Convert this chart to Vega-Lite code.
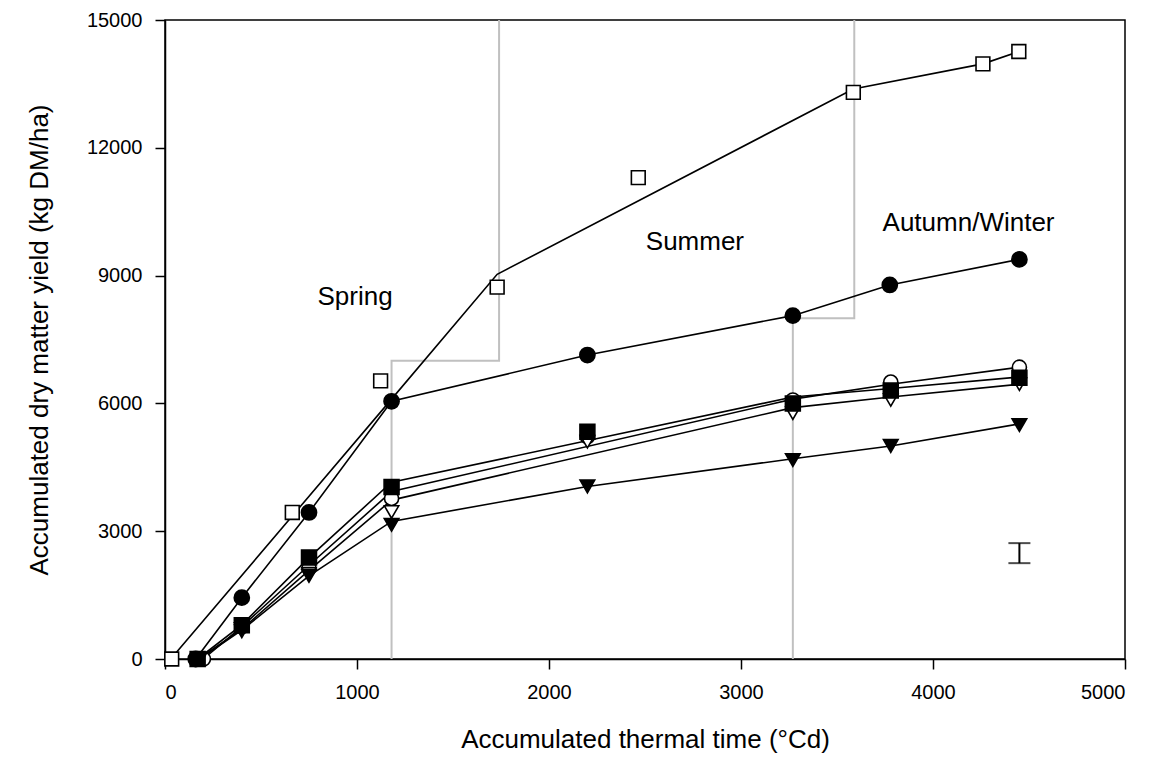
{
  "$schema": "https://vega.github.io/schema/vega-lite/v6.json",
  "width": 960,
  "height": 639,
  "autosize": "none",
  "padding": {"left": 165, "top": 20, "right": 36, "bottom": 113},
  "background": "white",
  "config": {
    "view": {"stroke": "black", "strokeWidth": 1.5},
    "font": "Liberation Sans",
    "axis": {"grid": false, "domainColor": "black", "domainWidth": 1.5, "tickColor": "black", "tickWidth": 1.5, "tickSize": 10, "labelFont": "Liberation Sans", "labelFontSize": 20, "labelColor": "black", "titleFont": "Liberation Sans", "titleFontWeight": "normal", "titleColor": "black", "titleFontSize": 26}
  },
  "datasets": {
    "pts": [
      {"s": "A", "x": 35, "y": 0}, {"s": "A", "x": 663, "y": 3440}, {"s": "A", "x": 1123, "y": 6530}, {"s": "A", "x": 1730, "y": 8730}, {"s": "A", "x": 2465, "y": 11300}, {"s": "A", "x": 3585, "y": 13300}, {"s": "A", "x": 4260, "y": 13970}, {"s": "A", "x": 4447, "y": 14260},
      {"s": "C", "x": 200, "y": 0}, {"s": "C", "x": 400, "y": 760}, {"s": "C", "x": 750, "y": 2130}, {"s": "C", "x": 1180, "y": 3770}, {"s": "C", "x": 2200, "y": 5220}, {"s": "C", "x": 3270, "y": 6080}, {"s": "C", "x": 3780, "y": 6500}, {"s": "C", "x": 4450, "y": 6850},
      {"s": "T", "x": 175, "y": 0}, {"s": "T", "x": 400, "y": 650}, {"s": "T", "x": 750, "y": 2000}, {"s": "T", "x": 1180, "y": 3450}, {"s": "T", "x": 2200, "y": 5100}, {"s": "T", "x": 3270, "y": 5770}, {"s": "T", "x": 3780, "y": 6080}, {"s": "T", "x": 4450, "y": 6450},
      {"s": "FT", "x": 180, "y": 0}, {"s": "FT", "x": 400, "y": 700}, {"s": "FT", "x": 750, "y": 1950}, {"s": "FT", "x": 1180, "y": 3150}, {"s": "FT", "x": 2200, "y": 4050}, {"s": "FT", "x": 3270, "y": 4670}, {"s": "FT", "x": 3780, "y": 5000}, {"s": "FT", "x": 4450, "y": 5490},
      {"s": "FS", "x": 170, "y": 0}, {"s": "FS", "x": 400, "y": 790}, {"s": "FS", "x": 750, "y": 2380}, {"s": "FS", "x": 1180, "y": 4040}, {"s": "FS", "x": 2200, "y": 5335}, {"s": "FS", "x": 3270, "y": 6000}, {"s": "FS", "x": 3780, "y": 6300}, {"s": "FS", "x": 4450, "y": 6600},
      {"s": "FC", "x": 160, "y": 0}, {"s": "FC", "x": 400, "y": 1440}, {"s": "FC", "x": 750, "y": 3440}, {"s": "FC", "x": 1180, "y": 6050}, {"s": "FC", "x": 2200, "y": 7135}, {"s": "FC", "x": 3270, "y": 8060}, {"s": "FC", "x": 3775, "y": 8780}, {"s": "FC", "x": 4450, "y": 9380}
    ],
    "lines": [
      {"s": "A", "x": 30, "y": 0}, {"s": "A", "x": 1180, "y": 6100}, {"s": "A", "x": 1730, "y": 9030}, {"s": "A", "x": 3585, "y": 13380}, {"s": "A", "x": 4260, "y": 13970}, {"s": "A", "x": 4447, "y": 14260},
      {"s": "FC", "x": 160, "y": 0}, {"s": "FC", "x": 400, "y": 1440}, {"s": "FC", "x": 750, "y": 3440}, {"s": "FC", "x": 1180, "y": 6050}, {"s": "FC", "x": 2200, "y": 7135}, {"s": "FC", "x": 3270, "y": 8060}, {"s": "FC", "x": 3775, "y": 8780}, {"s": "FC", "x": 4450, "y": 9380},
      {"s": "FS", "x": 170, "y": 0}, {"s": "FS", "x": 400, "y": 800}, {"s": "FS", "x": 750, "y": 2380}, {"s": "FS", "x": 1180, "y": 4150}, {"s": "FS", "x": 3270, "y": 6150}, {"s": "FS", "x": 3780, "y": 6350}, {"s": "FS", "x": 4450, "y": 6620},
      {"s": "C", "x": 200, "y": 0}, {"s": "C", "x": 400, "y": 760}, {"s": "C", "x": 750, "y": 2200}, {"s": "C", "x": 1180, "y": 3930}, {"s": "C", "x": 3270, "y": 6100}, {"s": "C", "x": 3780, "y": 6450}, {"s": "C", "x": 4450, "y": 6850},
      {"s": "T", "x": 175, "y": 0}, {"s": "T", "x": 400, "y": 700}, {"s": "T", "x": 750, "y": 2080}, {"s": "T", "x": 1180, "y": 3730}, {"s": "T", "x": 3270, "y": 5900}, {"s": "T", "x": 3780, "y": 6150}, {"s": "T", "x": 4450, "y": 6450},
      {"s": "FT", "x": 180, "y": 0}, {"s": "FT", "x": 400, "y": 680}, {"s": "FT", "x": 750, "y": 1950}, {"s": "FT", "x": 1180, "y": 3230}, {"s": "FT", "x": 2200, "y": 4050}, {"s": "FT", "x": 3270, "y": 4700}, {"s": "FT", "x": 3780, "y": 5000}, {"s": "FT", "x": 4450, "y": 5520}
    ],
    "steps": [
      {"g": 1, "i": 1, "x": 1180, "y": 0}, {"g": 1, "i": 2, "x": 1180, "y": 7000}, {"g": 1, "i": 3, "x": 1740, "y": 7000}, {"g": 1, "i": 4, "x": 1740, "y": 15000},
      {"g": 2, "i": 1, "x": 3270, "y": 0}, {"g": 2, "i": 2, "x": 3270, "y": 8000}, {"g": 2, "i": 3, "x": 3590, "y": 8000}, {"g": 2, "i": 4, "x": 3590, "y": 15000}
    ],
    "labels": [
      {"t": "Spring", "x": 990, "y": 8500},
      {"t": "Summer", "x": 2760, "y": 9790},
      {"t": "Autumn/Winter", "x": 4185, "y": 10230}
    ],
    "err": [{"x": 4450, "lo": 2250, "hi": 2720}]
  },
  "encoding": {
    "x": {"field": "x", "type": "quantitative", "scale": {"domain": [0, 5000], "nice": false}, "axis": {"values": [0, 1000, 2000, 3000, 4000, 5000], "format": "d", "title": "Accumulated thermal time (°Cd)", "labelFontSize": 20, "titleFontSize": 26, "labelPadding": 13, "titlePadding": 24}},
    "y": {"field": "y", "type": "quantitative", "scale": {"domain": [0, 15000], "nice": false}, "axis": {"values": [0, 3000, 6000, 9000, 12000, 15000], "format": "d", "title": "Accumulated dry matter yield (kg DM/ha)", "labelFontSize": 20, "titleFontSize": 26, "labelPadding": 13, "titlePadding": 34}}
  },
  "layer": [
    {
      "data": {"name": "steps"},
      "mark": {"type": "line", "color": "#c0c0c0", "strokeWidth": 2},
      "encoding": {"detail": {"field": "g"}, "order": {"field": "i"}}
    },
    {
      "data": {"name": "lines"},
      "mark": {"type": "line", "color": "black", "strokeWidth": 1.6},
      "encoding": {"detail": {"field": "s"}}
    },
    {
      "data": {"name": "pts"},
      "mark": {"type": "point", "stroke": "black", "strokeWidth": 1.6, "opacity": 1, "filled": false},
      "encoding": {
        "shape": {"field": "s", "type": "nominal", "legend": null, "scale": {"domain": ["A", "C", "T", "FT", "FS", "FC"], "range": ["square", "circle", "triangle-down", "triangle-down", "square", "circle"]}},
        "fill": {"field": "s", "type": "nominal", "legend": null, "scale": {"domain": ["A", "C", "T", "FT", "FS", "FC"], "range": ["white", "white", "white", "black", "black", "black"]}},
        "size": {"field": "s", "type": "nominal", "legend": null, "scale": {"domain": ["A", "C", "T", "FT", "FS", "FC"], "range": [190, 230, 200, 200, 190, 240]}}
      }
    },
    {
      "data": {"name": "err"},
      "mark": {"type": "rule", "color": "black", "strokeWidth": 2},
      "encoding": {"y": {"field": "lo", "type": "quantitative"}, "y2": {"field": "hi"}}
    },
    {
      "data": {"name": "err"},
      "mark": {"type": "tick", "orient": "horizontal", "color": "black", "thickness": 2, "size": 22},
      "encoding": {"y": {"field": "lo", "type": "quantitative"}}
    },
    {
      "data": {"name": "err"},
      "mark": {"type": "tick", "orient": "horizontal", "color": "black", "thickness": 2, "size": 22},
      "encoding": {"y": {"field": "hi", "type": "quantitative"}}
    },
    {
      "data": {"name": "labels"},
      "mark": {"type": "text", "fontSize": 26, "font": "Liberation Sans", "color": "black", "align": "center", "baseline": "middle"},
      "encoding": {"text": {"field": "t"}}
    }
  ]
}
